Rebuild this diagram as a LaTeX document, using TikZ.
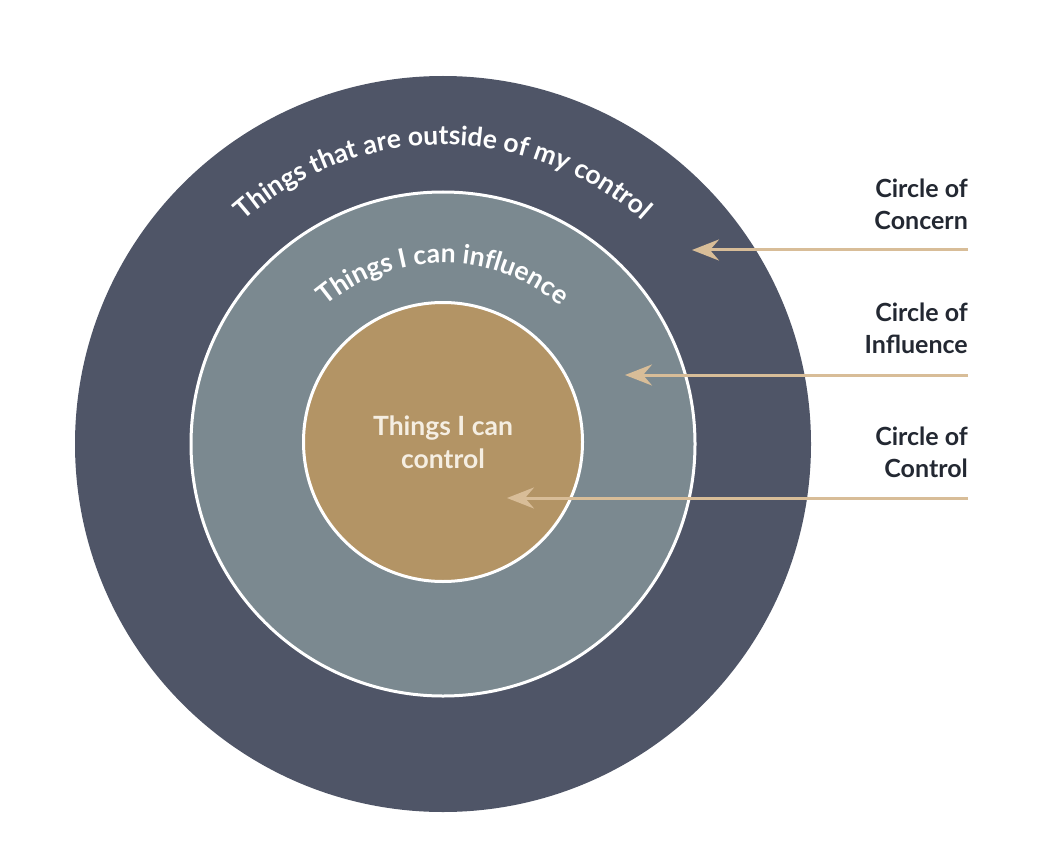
\documentclass[tikz,border=0pt]{standalone}
\usepackage{fontspec}
\setmainfont{Lato}
\usetikzlibrary{arrows.meta,decorations.text}
\definecolor{outerc}{HTML}{4F5567}
\definecolor{midc}{HTML}{7B8990}
\definecolor{innerc}{HTML}{B39465}
\definecolor{arrowc}{HTML}{D8BD98}
\definecolor{labelc}{HTML}{232832}
\definecolor{centertext}{HTML}{F5EEE2}
\tikzset{
  ring/.style={circle, inner sep=0pt, outer sep=0pt},
  sidelabel/.style={anchor=east, align=right, text=labelc, font=\fontsize{25}{32}\selectfont\bfseries, inner sep=0pt},
  pointer/.style={draw=arrowc, line width=3pt, -{Stealth[length=27pt,width=21pt,inset=9pt]}},
}
\begin{document}
\begin{tikzpicture}[x=1pt,y=1pt]
\useasboundingbox (0,0) rectangle (1062,-842);
\coordinate (C) at (443,-444);
\node[ring, minimum size=736pt, fill=outerc] (outer) at (C) {};
\node[ring, minimum size=504pt, fill=midc, draw=white, line width=3pt] (middle) at (C) {};
\node[ring, minimum size=279pt, fill=innerc, draw=white, line width=3pt] (inner) at (443,-442) {};
% curved texts
\path[decorate, decoration={text along path, text align=center, text color=white,
  text={|\fontsize{26.5}{26.5}\selectfont\bfseries|Things that are outside of my control}}]
  (C) ++(150:299) arc[start angle=150, end angle=30, radius=299];
\path[decorate, decoration={text along path, text align=center, text color=white,
  text={|\fontsize{26.5}{26.5}\selectfont\bfseries|Things I can influence}}]
  (C) ++(150:181) arc[start angle=150, end angle=30, radius=181];
\node[align=center, text=centertext, font=\fontsize{26.5}{33}\selectfont\bfseries, inner sep=0pt] (ctext) at (443,-442) {Things I can\\control};
% side labels
\node[sidelabel] (lconcern) at (968,-204) {Circle of\\Concern};
\node[sidelabel] (linfluence) at (968,-328) {Circle of\\Influence};
\node[sidelabel] (lcontrol) at (968,-452) {Circle of\\Control};
% arrows
\coordinate (s1) at (968,-250);
\coordinate (t1) at (692,-250);
\coordinate (s2) at (968,-375);
\coordinate (t2) at (625,-375);
\coordinate (s3) at (968,-498);
\coordinate (t3) at (507,-498);
\draw[pointer] (s1) -- (t1);
\draw[pointer] (s2) -- (t2);
\draw[pointer] (s3) -- (t3);
\end{tikzpicture}
\end{document}
